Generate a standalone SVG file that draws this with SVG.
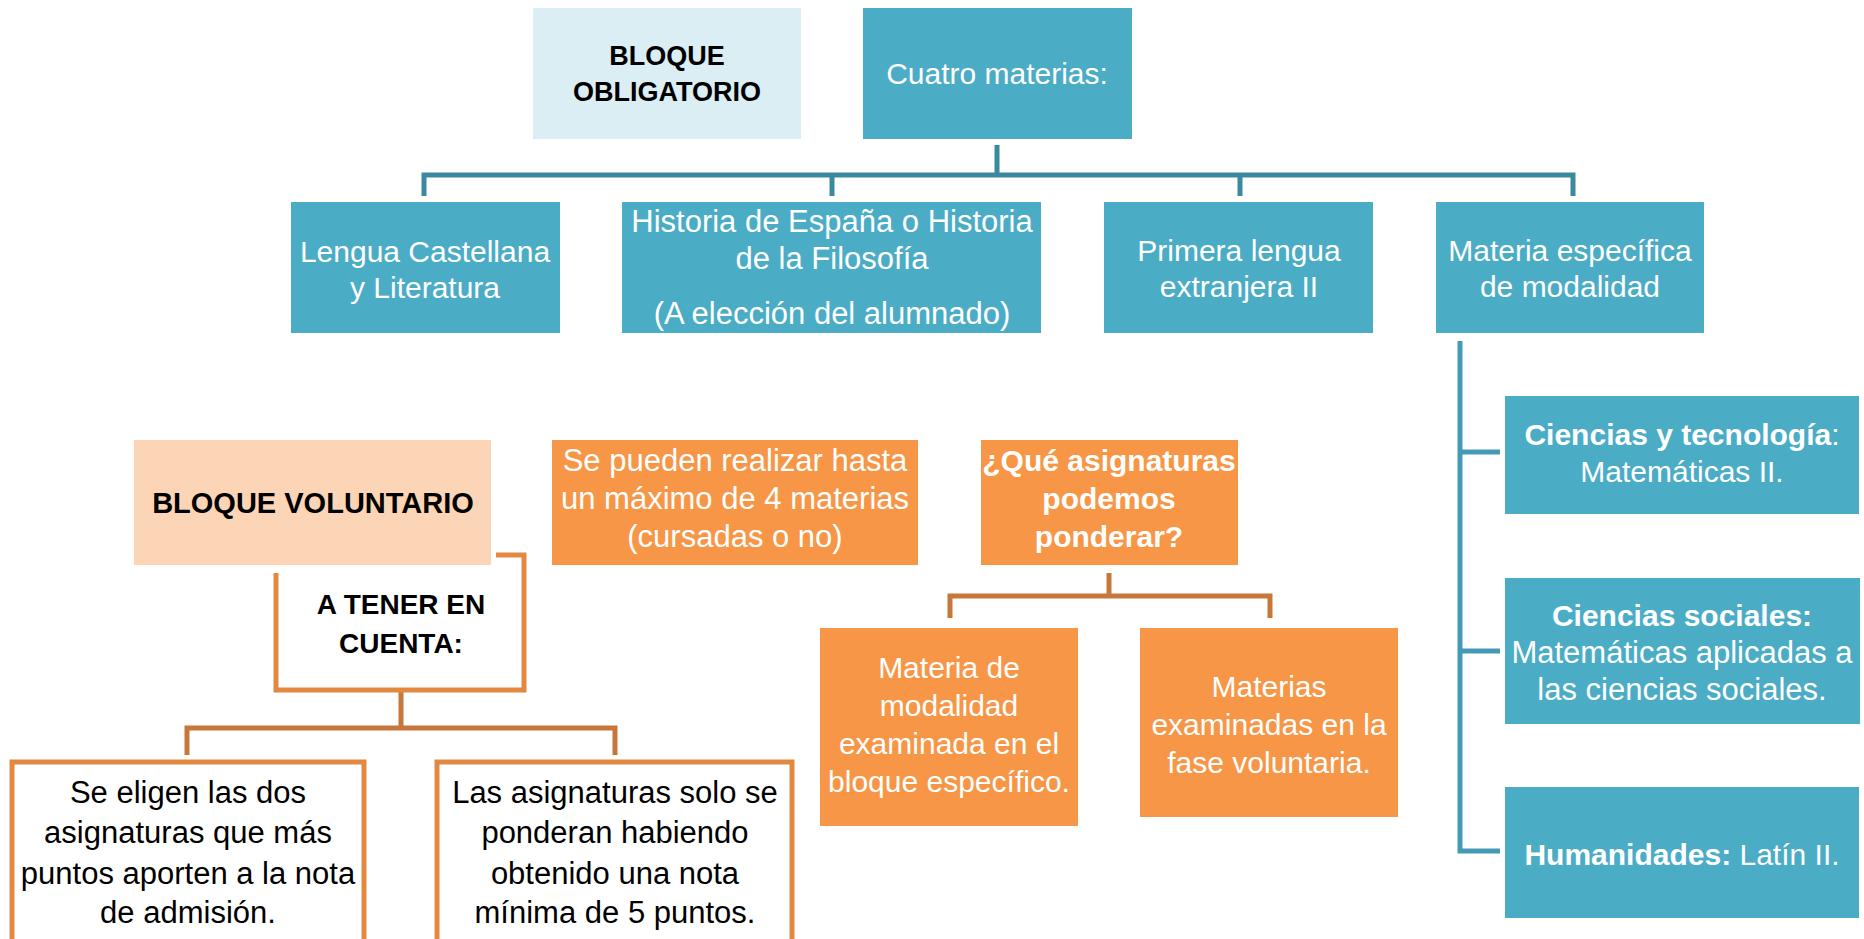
<svg xmlns="http://www.w3.org/2000/svg" width="1864" height="939" viewBox="0 0 1864 939">
<style>
  text { font-family: "Liberation Sans", Arial, sans-serif; text-anchor: middle; }
  .w { fill: #ffffff; font-size: 30px; }
  .k { fill: #000000; font-size: 31px; }
  .l { font-size: 31px; }
  .bk { fill: #000000; font-size: 28px; font-weight: bold; }
  .bw { font-weight: bold; }
  .blue { fill: #4BACC6; }
  .orange { fill: #F79646; }
  .conB { stroke: #3A89A0; stroke-width: 5; fill: none; }
  .conB2 { stroke: #4499B5; stroke-width: 5; fill: none; }
  .conO { stroke: #C8773A; stroke-width: 5; fill: none; }
  .bord { fill: #ffffff; stroke: #E2893F; stroke-width: 5; }
</style>
<rect width="1864" height="939" fill="#ffffff"/>

<g id="connectors">
  <path class="conB" d="M997 145 V175 M424 196 V175 H1573 V196 M832 175 V196 M1240 175 V196"/>
  <path class="conB2" d="M1460 341 V851 H1500 M1460 452 H1500 M1460 651 H1500"/>
  <path class="conO" d="M401 690 V728 M187 755 V728 H615 V755"/>
  <path class="conO" d="M1109 573 V596 M950 618 V596 H1270 V618"/>
</g>

<g id="bloque-obligatorio">
  <rect x="533" y="8" width="268" height="131" fill="#DAEEF3"/>
  <text class="bk" x="667" y="65" style="font-size:27px">BLOQUE</text>
  <text class="bk" x="667" y="101" style="font-size:27px">OBLIGATORIO</text>
</g>
<g id="cuatro-materias">
  <rect class="blue" x="863" y="8" width="269" height="131"/>
  <text class="w" x="997" y="84">Cuatro materias:</text>
</g>

<g id="lengua">
  <rect class="blue" x="291" y="202" width="269" height="131"/>
  <text class="w" x="425" y="262">Lengua Castellana</text>
  <text class="w" x="425" y="298">y Literatura</text>
</g>
<g id="historia">
  <rect class="blue" x="622" y="202" width="419" height="131"/>
  <text class="w l" x="832" y="232">Historia de España o Historia</text>
  <text class="w l" x="832" y="269">de la Filosofía</text>
  <text class="w l" x="832" y="324">(A elección del alumnado)</text>
</g>
<g id="primera-lengua">
  <rect class="blue" x="1104" y="202" width="269" height="131"/>
  <text class="w" x="1239" y="261">Primera lengua</text>
  <text class="w" x="1239" y="297">extranjera II</text>
</g>
<g id="materia-especifica">
  <rect class="blue" x="1436" y="202" width="268" height="131"/>
  <text class="w" x="1570" y="261">Materia específica</text>
  <text class="w" x="1570" y="297">de modalidad</text>
</g>

<g id="ciencias-tecnologia">
  <rect class="blue" x="1505" y="396" width="354" height="118"/>
  <text class="w" x="1682" y="445"><tspan class="bw">Ciencias y tecnología</tspan>:</text>
  <text class="w" x="1682" y="482">Matemáticas II.</text>
</g>
<g id="ciencias-sociales">
  <rect class="blue" x="1505" y="578" width="355" height="146"/>
  <text class="w bw" x="1682" y="626">Ciencias sociales:</text>
  <text class="w l" x="1682" y="663">Matemáticas aplicadas a</text>
  <text class="w l" x="1682" y="700">las ciencias sociales.</text>
</g>
<g id="humanidades">
  <rect class="blue" x="1505" y="787" width="354" height="131"/>
  <text class="w" x="1682" y="865"><tspan class="bw">Humanidades:</tspan> Latín II.</text>
</g>

<g id="bloque-voluntario">
  <rect x="134" y="440" width="357" height="125" fill="#FBD5B5"/>
  <text class="bk" x="313" y="513" style="font-size:29px">BLOQUE VOLUNTARIO</text>
</g>
<g id="a-tener-en-cuenta">
  <path d="M496 555 H524 V690 H276 V573" fill="none" stroke="#E2893F" stroke-width="5"/>
  <text class="bk" x="401" y="614">A TENER EN</text>
  <text class="bk" x="401" y="653">CUENTA:</text>
</g>
<g id="se-eligen">
  <rect class="bord" x="12" y="762" width="352" height="190"/>
  <text class="k" x="188" y="803">Se eligen las dos</text>
  <text class="k" x="188" y="843">asignaturas que más</text>
  <text class="k" x="188" y="884">puntos aporten a la nota</text>
  <text class="k" x="188" y="923">de admisión.</text>
</g>
<g id="asignaturas-solo">
  <rect class="bord" x="437" y="762" width="355" height="190"/>
  <text class="k" x="615" y="803">Las asignaturas solo se</text>
  <text class="k" x="615" y="843">ponderan habiendo</text>
  <text class="k" x="615" y="884">obtenido una nota</text>
  <text class="k" x="615" y="923">mínima de 5 puntos.</text>
</g>
<g id="se-pueden">
  <rect class="orange" x="552" y="440" width="366" height="125"/>
  <text class="w l" x="735" y="471">Se pueden realizar hasta</text>
  <text class="w l" x="735" y="509">un máximo de 4 materias</text>
  <text class="w l" x="735" y="547">(cursadas o no)</text>
</g>
<g id="que-asignaturas">
  <rect class="orange" x="981" y="440" width="257" height="125"/>
  <text class="w bw" x="1109" y="471">¿Qué asignaturas</text>
  <text class="w bw" x="1109" y="509">podemos</text>
  <text class="w bw" x="1109" y="547">ponderar?</text>
</g>
<g id="materia-de-modalidad">
  <rect class="orange" x="820" y="628" width="258" height="198"/>
  <text class="w" x="949" y="678">Materia de</text>
  <text class="w" x="949" y="716">modalidad</text>
  <text class="w" x="949" y="754">examinada en el</text>
  <text class="w" x="949" y="792">bloque específico.</text>
</g>
<g id="materias-examinadas">
  <rect class="orange" x="1140" y="628" width="258" height="189"/>
  <text class="w" x="1269" y="697">Materias</text>
  <text class="w" x="1269" y="735">examinadas en la</text>
  <text class="w" x="1269" y="773">fase voluntaria.</text>
</g>
</svg>
